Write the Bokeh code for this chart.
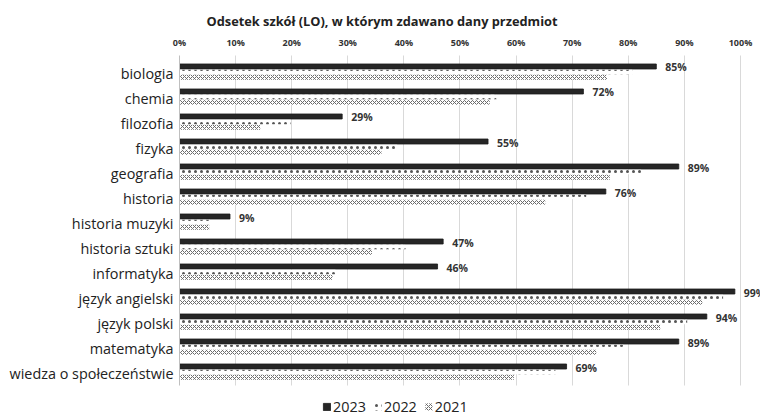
from bokeh.plotting import figure
from bokeh.models import (ColumnDataSource, FactorRange, Range1d, FixedTicker,
                          PrintfTickFormatter, Legend, LegendItem)
from bokeh.transform import dodge
from bokeh.core.properties import value
from bokeh.embed import file_html
from bokeh.resources import INLINE

subjects = ["biologia", "chemia", "filozofia", "fizyka", "geografia", "historia",
            "historia muzyki", "historia sztuki", "informatyka", "język angielski",
            "język polski", "matematyka", "wiedza o społeczeństwie"]
v2023 = [85, 72, 29, 55, 89, 76, 9, 47, 46, 99, 94, 89, 69]
v2022 = [80.7, 56.5, 19.8, 38.8, 82.3, 72.5, 5.4, 40.3, 27.8, 96.9, 90.5, 79.1, 67.0]
v2021 = [76.2, 55.3, 14.4, 36.0, 76.7, 65.2, 5.3, 34.3, 27.3, 93.2, 85.7, 74.3, 59.6]
years = ["2023", "2022", "2021"]
ticks = [0, 10, 20, 30, 40, 50, 60, 70, 80, 90, 100]

src = ColumnDataSource(dict(
    subj=subjects, v2023=v2023, v2022=v2022, v2021=v2021,
    lbl=[f"{v}%" for v in v2023],
))

FONT = "Open Sans"

# a blank slot under the last category holds the legend inside the frame
yr = FactorRange(factors=[" "] + subjects[::-1], range_padding=0.24,
                 range_padding_units="absolute")

p = figure(frame_width=581, frame_height=362, output_backend="svg", toolbar_location=None,
           y_range=yr, x_range=Range1d(0, 103.57), x_axis_location="above",
           min_border_left=179, min_border_right=0, min_border_top=54,
           min_border_bottom=0)
p.outline_line_color = None
p.background_fill_color = "white"

p.title.text = "Odsetek szkół (LO), w którym zdawano dany przedmiot"
p.title.text_font = FONT
p.title.text_font_size = "12.8px"
p.title.text_font_style = "bold"
p.title.text_color = "#222222"
p.title.align = "left"
p.title.offset = 27
if "standoff" in p.title.properties():
    p.title.standoff = 6

# axes
xa = p.xaxis[0]
xa.ticker = FixedTicker(ticks=ticks)
xa.formatter = PrintfTickFormatter(format="%d%%")
xa.axis_line_color = None
xa.major_tick_line_color = None
xa.minor_tick_line_color = None
xa.major_label_text_font = FONT
xa.major_label_text_font_size = "9px"
xa.major_label_text_font_style = "bold"
xa.major_label_text_color = "#333333"
xa.major_label_standoff = 0

ya = p.yaxis[0]
ya.axis_line_color = "#bfbfbf"
ya.major_tick_line_color = None
ya.minor_tick_line_color = None
ya.major_label_text_font = FONT
ya.major_label_text_font_size = "14.4px"
ya.major_label_text_color = "#222222"
ya.major_label_standoff = 0
ya.bounds = (1, 14.2)

g = p.xgrid[0]
g.ticker = FixedTicker(ticks=ticks)
p.ygrid.grid_line_color = None
if "cross_bounds" in g.properties():
    g.grid_line_color = "#d9d9d9"
    g.cross_bounds = (1, 14.2)
else:
    g.grid_line_color = None
    p.segment(x0=ticks, x1=ticks, y0=[1] * len(ticks), y1=[14.2] * len(ticks),
              line_color="#d9d9d9", line_width=1)

r23 = p.hbar(y=dodge("subj", 0.26, range=p.y_range), right="v2023", left=0,
             height=0.2, source=src, fill_color="#262626", line_color="#1a1a1a",
             line_width=0.8)
r22 = p.hbar(y=dodge("subj", 0.04, range=p.y_range), right="v2022", left=0,
             height=0.18, source=src, fill_color="white", line_color=None,
             hatch_pattern="dot", hatch_scale=6, hatch_color="#555555",
             hatch_weight=1.1)
r21 = p.hbar(y=dodge("subj", -0.17, range=p.y_range), right="v2021", left=0,
             height=0.2, source=src, fill_color="white", line_color=None,
             hatch_pattern="diagonal_cross", hatch_scale=4, hatch_color="#6a6a6a",
             hatch_weight=1)

p.text(x="v2023", y=dodge("subj", 0.22, range=p.y_range), text="lbl", source=src,
       x_offset=9, text_font=value(FONT), text_font_size="10.5px",
       text_font_style="bold", text_color="#333333", text_baseline="middle",
       text_align="left")

legend = Legend(items=[LegendItem(label=years[0], renderers=[r23]),
                       LegendItem(label=years[1], renderers=[r22]),
                       LegendItem(label=years[2], renderers=[r21])],
                orientation="horizontal", location=(143, 0),
                label_text_font=FONT, label_text_font_size="14.4px",
                label_text_color="#222222", glyph_width=9, glyph_height=9,
                spacing=7, label_standoff=2, padding=0, margin=0,
                border_line_color=None, background_fill_alpha=0)
p.add_layout(legend)

open("out.html", "w").write(file_html(p, INLINE))
